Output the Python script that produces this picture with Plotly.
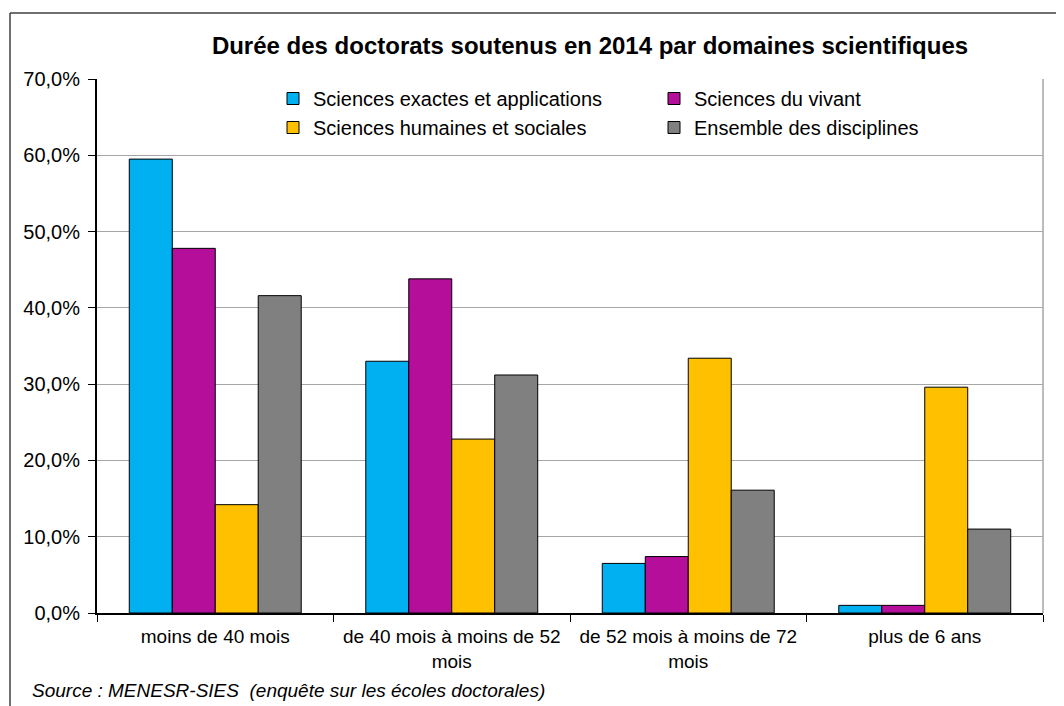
import plotly.graph_objects as go

categories = ["moins de 40 mois", "de 40 mois à moins de 52<br>mois",
              "de 52 mois à moins de 72<br>mois", "plus de 6 ans"]
series_names = ["Sciences exactes et applications", "Sciences du vivant",
                "Sciences humaines et sociales", "Ensemble des disciplines"]
exactes = [59.5, 33.0, 6.5, 1.0]
vivant = [47.8, 43.8, 7.4, 1.0]
humaines = [14.2, 22.8, 33.4, 29.6]
ensemble = [41.6, 31.2, 16.1, 11.0]
colors = ["#00B0F0", "#B40E9A", "#FFC000", "#808080"]
y_ticks = [0, 10, 20, 30, 40, 50, 60, 70]
y_ticktext = [f"{v:.1f}".replace(".", ",") + "%" for v in y_ticks]

title_text = "Durée des doctorats soutenus en 2014 par domaines scientifiques"
source_text = "Source : MENESR-SIES  (enquête sur les écoles doctorales)"

FONT = "Liberation Sans, Arial, sans-serif"

fig = go.Figure()
for name, vals, col in zip(series_names, [exactes, vivant, humaines, ensemble], colors):
    fig.add_trace(go.Bar(
        x=categories, y=vals, name=name,
        marker=dict(color=col, line=dict(color="#000000", width=1)),
    ))

# page has an 8px body margin: figure coords = page coords - 8
OFF = 8
W, H = 1064 - OFF, 706 - OFF
ml, mr, mt, mb = 97 - OFF, 21, 79 - OFF, 93
pw = W - ml - mr
ph = H - mt - mb

def px_x(x):  # page x -> paper
    return (x - OFF - ml) / pw

def px_y(y):  # page y -> paper
    return (H - mb - (y - OFF)) / ph

fig.update_layout(
    width=W, height=H,
    margin=dict(l=ml, r=mr, t=mt, b=mb, pad=0),
    paper_bgcolor="white", plot_bgcolor="white",
    font=dict(family=FONT, color="#000000", size=19),
    barmode="group", bargap=0.273, bargroupgap=0,
    title=dict(text="<b>" + title_text + "</b>", xref="container",
               x=(590 - OFF) / W, xanchor="center",
               y=1 - (46 - OFF) / H, yanchor="middle", yref="container",
               font=dict(size=24, family=FONT, color="#000000")),
    showlegend=True,
    legend=dict(orientation="h", x=px_x(273), xanchor="left", y=1, yanchor="top",
                entrywidth=336, entrywidthmode="pixels",
                font=dict(size=20, family=FONT), bgcolor="rgba(0,0,0,0)",
                traceorder="normal", itemclick=False, tracegroupgap=0),
    xaxis=dict(showline=True, linecolor="#000000", linewidth=2,
               ticks="outside", tickson="boundaries", ticklen=7, tickcolor="#000000",
               tickwidth=1, tickfont=dict(size=19, family=FONT), showgrid=False,
               ticklabelstandoff=5, fixedrange=True),
    yaxis=dict(range=[0, 70], tickvals=y_ticks, ticktext=y_ticktext,
               showline=True, linecolor="#000000", linewidth=2,
               ticks="outside", ticklen=7, tickcolor="#000000", tickwidth=1,
               showgrid=True, gridcolor="#A6A6A6", gridwidth=1,
               zeroline=False, tickfont=dict(size=20, family=FONT),
               ticklabelstandoff=4, fixedrange=True),
    shapes=[
        # plot area right border (gray)
        dict(type="line", xref="paper", yref="paper", x0=1, x1=1, y0=0, y1=1,
             line=dict(color="#A6A6A6", width=1.5), layer="below"),
        # outer chart frame (top and left visible)
        dict(type="line", xref="paper", yref="paper", x0=px_x(10), x1=px_x(1080),
             y0=px_y(13), y1=px_y(13), line=dict(color="#404040", width=1.5)),
        dict(type="line", xref="paper", yref="paper", x0=px_x(10), x1=px_x(10),
             y0=px_y(13), y1=px_y(720), line=dict(color="#404040", width=1.5)),
    ],
    annotations=[
        dict(text="<i>" + source_text + "</i>", xref="paper", yref="paper",
             x=px_x(30), y=px_y(690), xanchor="left", yanchor="middle",
             showarrow=False, font=dict(size=19, family=FONT, color="#000000")),
    ],
)

fig.write_html("out.html")
